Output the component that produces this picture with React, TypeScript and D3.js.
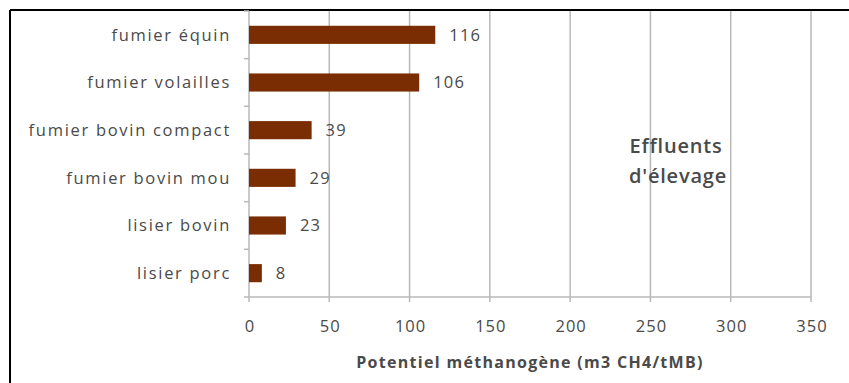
import React from "react";
import * as d3 from "d3";

const categories = ["fumier équin", "fumier volailles", "fumier bovin compact", "fumier bovin mou", "lisier bovin", "lisier porc"];
const values = [116, 106, 39, 29, 23, 8];
const xTicks = [0, 50, 100, 150, 200, 250, 300, 350];
const xTitle = "Potentiel méthanogène (m3 CH4/tMB)";
const annotation = ["Effluents", "d'élevage"];

const W = 849, H = 383;
const left = 249, right = 811, top = 11, bottom = 297;
const font = "'Open Sans', sans-serif";
const textColor = "#4a4a4a";
const gridColor = "#b8b8b8";
const barColor = "#7a2d03";

export default function App() {
  const x = d3.scaleLinear().domain([0, 350]).range([left, right]);
  const y = d3.scaleBand<string>().domain(categories).range([top, bottom]).paddingInner(0.62).paddingOuter(0.31);
  const bounds = d3.range(categories.length + 1).map(i => top + i * (bottom - top) / categories.length);
  return (
    <svg width={W} height={H} style={{ position: "absolute", left: 0, top: 0, background: "#fff" }}>
      <rect x={0} y={0} width={W} height={H} fill="#fff" />
      {/* outer frame */}
      <line x1={10} y1={10} x2={W} y2={10} stroke="#000" strokeWidth={2} />
      <line x1={10} y1={10} x2={10} y2={H} stroke="#000" strokeWidth={2} />
      {/* grid */}
      {xTicks.filter(t => t > 0).map(t => (
        <line key={t} x1={x(t)} x2={x(t)} y1={top} y2={bottom + 5} stroke={gridColor} strokeWidth={1.5} />
      ))}
      {/* axes */}
      <line x1={left} x2={right} y1={bottom} y2={bottom} stroke={gridColor} strokeWidth={1.5} />
      <line x1={left} x2={left} y1={top} y2={bottom + 5} stroke={gridColor} strokeWidth={1.5} />
      {bounds.map((b, i) => (
        <line key={i} x1={left - 5} x2={left} y1={b} y2={b} stroke={gridColor} strokeWidth={1.5} />
      ))}
      {/* bars */}
      {categories.map((c, i) => (
        <g key={c}>
          <rect x={x(0)} y={y(c)} width={x(values[i]) - x(0)} height={y.bandwidth()} fill={barColor} />
          <text x={x(values[i]) + 14} y={(y(c) as number) + y.bandwidth() / 2} dy="0.35em" fontFamily={font} fontSize={16.5} letterSpacing={1.2} fill={textColor}>{values[i]}</text>
          <text x={231} y={(y(c) as number) + y.bandwidth() / 2} dy="0.35em" textAnchor="end" fontFamily={font} fontSize={16.5} letterSpacing={1.7} fill={textColor}>{c}</text>
        </g>
      ))}
      {/* x tick labels */}
      {xTicks.map(t => (
        <text key={t} x={x(t) + 1} y={326} dy="0.35em" textAnchor="middle" fontFamily={font} fontSize={16.5} letterSpacing={1} fill={textColor}>{t}</text>
      ))}
      <text x={(x(0) + x(350)) / 2} y={362} dy="0.35em" textAnchor="middle" fontFamily={font} fontSize={16} letterSpacing={1.3} fontWeight={700} fill={textColor}>{xTitle}</text>
      <text x={676} y={146} dy="0.35em" textAnchor="middle" fontFamily={font} fontSize={20} letterSpacing={0.8} fontWeight={600} fill={textColor}>{annotation[0]}</text>
      <text x={678} y={176} dy="0.35em" textAnchor="middle" fontFamily={font} fontSize={20} letterSpacing={0.8} fontWeight={600} fill={textColor}>{annotation[1]}</text>
    </svg>
  );
}
